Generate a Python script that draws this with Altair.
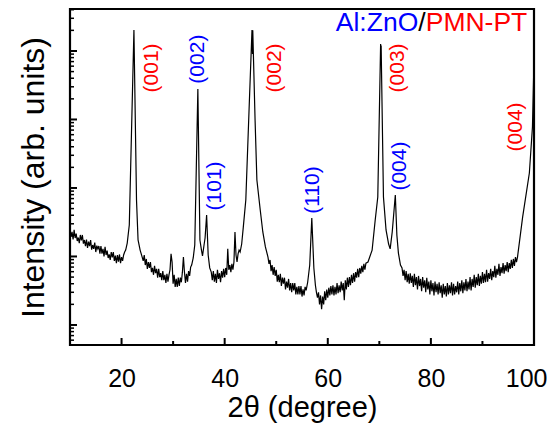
import altair as alt
import pandas as pd

# ---------------- data ----------------
two_theta = [
    # 10 - 20.4
    10.0, 10.2, 10.4, 10.6, 10.8, 11.0, 11.2, 11.4, 11.6, 11.8, 12.0, 12.2, 12.4, 12.6, 12.8,
    13.0, 13.2, 13.4, 13.6, 13.8, 14.0, 14.2, 14.4, 14.6, 14.8, 15.0, 15.2, 15.4, 15.6, 15.8,
    16.0, 16.2, 16.4, 16.6, 16.8, 17.0, 17.2, 17.4, 17.6, 17.8, 18.0, 18.2, 18.4, 18.6, 18.8,
    19.0, 19.2, 19.4, 19.6, 19.8, 20.0, 20.2, 20.4,
    # PMN-PT (001)
    20.6, 20.8, 21.1, 21.5, 22.4, 22.9, 23.2, 23.6, 24.0,
    # 24.2 - 33.6
    24.2, 24.4, 24.6, 24.8, 25.0, 25.2, 25.4, 25.6, 25.8, 26.0, 26.2, 26.4, 26.6, 26.8, 27.0,
    27.2, 27.4, 27.6, 27.8, 28.0, 28.2, 28.4, 28.6, 28.8, 29.0, 29.2, 29.4, 29.6, 29.8, 30.0,
    30.2, 30.4, 30.6, 30.8, 31.0, 31.2, 31.4, 31.6, 31.8, 32.0, 32.2, 32.4, 32.6, 32.8, 33.0,
    33.2, 33.4, 33.6,
    # ZnO (002), (101)
    33.9, 34.2, 34.8, 35.2, 35.5, 35.7, 36.0, 36.2, 36.5, 36.8, 37.1,
    # 37.4 - 43.0
    37.4, 37.6, 37.8, 38.0, 38.2, 38.4, 38.6, 38.8, 39.0, 39.2, 39.4, 39.6, 39.8, 40.0, 40.2,
    40.4, 40.6, 40.8, 41.0, 41.2, 41.4, 41.6, 41.8, 42.0, 42.2, 42.4, 42.6, 42.8, 43.0,
    # PMN-PT (002)
    43.3, 43.6, 44.1, 44.8, 45.3, 45.4, 45.45, 45.9, 46.25, 46.9, 47.4, 47.9, 48.4,
    # 48.6 - 55.8
    48.6, 48.8, 49.0, 49.2, 49.4, 49.6, 49.8, 50.0, 50.2, 50.4, 50.6, 50.8, 51.0, 51.2, 51.4,
    51.6, 51.8, 52.0, 52.2, 52.4, 52.6, 52.8, 53.0, 53.2, 53.4, 53.6, 53.8, 54.0, 54.2, 54.4,
    54.6, 54.8, 55.0, 55.2, 55.4, 55.6, 55.8,
    # ZnO (110)
    56.1, 56.5, 56.9, 57.3, 57.6,
    # 57.8 - 67.4
    57.8, 58.0, 58.2, 58.4, 58.6, 58.8, 59.0, 59.2, 59.4, 59.6, 59.8, 60.0, 60.2, 60.4, 60.6,
    60.8, 61.0, 61.2, 61.4, 61.6, 61.8, 62.0, 62.2, 62.4, 62.6, 62.8, 63.0, 63.2, 63.4, 63.6,
    63.8, 64.0, 64.2, 64.4, 64.6, 64.8, 65.0, 65.2, 65.4, 65.6, 65.8, 66.0, 66.2, 66.4, 66.6,
    66.8, 67.0, 67.2, 67.4,
    # PMN-PT (003), ZnO (004)
    67.8, 68.6, 69.2, 69.7, 70.25, 70.3, 70.35, 70.8, 71.3, 71.8, 72.1, 72.5, 73.1, 73.4, 73.7, 74.1,
    # 74.4 - 96.8
    74.4, 74.6, 74.8, 75.0, 75.2, 75.4, 75.6, 75.8, 76.0, 76.2, 76.4, 76.6, 76.8, 77.0, 77.2,
    77.4, 77.6, 77.8, 78.0, 78.2, 78.4, 78.6, 78.8, 79.0, 79.2, 79.4, 79.6, 79.8, 80.0, 80.2,
    80.4, 80.6, 80.8, 81.0, 81.2, 81.4, 81.6, 81.8, 82.0, 82.2, 82.4, 82.6, 82.8, 83.0, 83.2,
    83.4, 83.6, 83.8, 84.0, 84.2, 84.4, 84.6, 84.8, 85.0, 85.2, 85.4, 85.6, 85.8, 86.0, 86.2,
    86.4, 86.6, 86.8, 87.0, 87.2, 87.4, 87.6, 87.8, 88.0, 88.2, 88.4, 88.6, 88.8, 89.0, 89.2,
    89.4, 89.6, 89.8, 90.0, 90.2, 90.4, 90.6, 90.8, 91.0, 91.2, 91.4, 91.6, 91.8, 92.0, 92.2,
    92.4, 92.6, 92.8, 93.0, 93.2, 93.4, 93.6, 93.8, 94.0, 94.2, 94.4, 94.6, 94.8, 95.0, 95.2,
    95.4, 95.6, 95.8, 96.0, 96.2, 96.4, 96.6, 96.8,
    # PMN-PT (004) rising edge
    97.8, 99.1, 99.7, 100.0,
]
counts = [
    # 10 - 20.4
    252, 195, 228, 177, 244, 186, 216, 168, 189, 157, 206, 171, 206, 154, 174,
    142, 177, 133, 165, 142, 174, 126, 147, 129, 160, 116, 144, 129, 142, 110,
    142, 110, 129, 100, 138, 105, 122, 95, 107, 89, 116, 97, 116, 86, 103,
    80, 105, 84, 107, 80, 98, 86, 105,
    # PMN-PT (001)
    116, 124, 157, 288, 203000, 668, 174, 124, 98,
    # 24.2 - 33.6
    86, 105, 75, 92, 66, 83, 68, 83, 59, 68, 54, 73, 57, 66, 49,
    66, 50, 57, 45, 61, 45, 54, 41, 56, 43, 54, 64, 109, 83, 40,
    54, 36, 47, 36, 49, 37, 49, 42, 59, 98, 59, 41, 56, 43, 61,
    52, 70, 75,
    # ZnO (002), (101)
    95, 147, 27900, 174, 124, 102, 147, 186, 403, 105, 68,
    # 37.4 - 43.0
    59, 45, 61, 43, 56, 41, 64, 47, 57, 42, 61, 49, 66, 50, 68,
    54, 129, 64, 75, 59, 78, 64, 83, 228, 105, 83, 109, 124, 116,
    # PMN-PT (002)
    152, 261, 668, 19300, 203000, 90000, 200000, 9770, 1309, 477, 228, 138, 98,
    # 48.6 - 55.8
    78, 89, 61, 75, 54, 70, 52, 64, 43, 54, 42, 56, 37, 49, 40,
    49, 33, 43, 35, 47, 32, 41, 30, 41, 32, 41, 28, 36, 28, 37,
    28, 37, 26, 33, 27, 36, 32,
    # ZnO (110)
    42, 75, 365, 68, 38,
    # 57.8 - 67.4
    30, 25, 30, 20, 27, 17, 26, 20, 31, 23, 33, 25, 35, 27, 37,
    28, 38, 27, 36, 28, 41, 29, 38, 30, 43, 32, 41, 23, 45, 33,
    49, 36, 50, 38, 54, 41, 57, 43, 59, 49, 66, 50, 68, 56, 73,
    59, 78, 64, 80,
    # PMN-PT (003), ZnO (004)
    83, 124, 341, 739, 126000, 74000, 120000, 739, 244, 152, 129, 228, 790, 206, 112, 75,
    # 74.4 - 96.8
    68, 52, 64, 45, 61, 42, 56, 40, 57, 41, 52, 36, 56, 38, 50,
    33, 52, 37, 47, 31, 50, 35, 45, 30, 49, 33, 43, 28, 45, 31,
    41, 27, 43, 30, 40, 28, 42, 29, 38, 25, 40, 28, 37, 26, 41,
    28, 38, 29, 42, 27, 40, 28, 37, 30, 43, 28, 41, 31, 45, 29,
    42, 32, 47, 31, 43, 33, 50, 32, 47, 36, 54, 35, 50, 38, 56,
    37, 52, 40, 59, 41, 56, 42, 64, 43, 57, 47, 66, 45, 61, 50,
    73, 49, 66, 54, 78, 52, 70, 57, 80, 56, 75, 61, 83, 59, 80,
    66, 89, 68, 92, 73, 98, 83, 98,
    # PMN-PT (004) rising edge
    378, 1656, 7770, 74000,
]

x_major = [20, 40, 60, 80, 100]
x_minor = [30, 50, 70, 90]
y_major = [10, 100, 1000, 10000, 100000]
y_minor = [6, 7, 8, 9,
           20, 30, 40, 50, 60, 70, 80, 90,
           200, 300, 400, 500, 600, 700, 800, 900,
           2000, 3000, 4000, 5000, 6000, 7000, 8000, 9000,
           20000, 30000, 40000, 50000, 60000, 70000, 80000, 90000,
           200000, 300000, 400000]

peak_labels = ["(001)", "(002)", "(101)", "(002)", "(110)", "(003)", "(004)", "(004)"]
peak_theta = [26.0, 34.8, 38.2, 49.8, 57.2, 73.7, 74.1, 96.6]
peak_count = [56500, 76000, 1070, 56500, 935, 56500, 2090, 7790]
peak_color = ["#FF0000", "#0000FF", "#0000FF", "#FF0000", "#0000FF", "#FF0000", "#0000FF", "#FF0000"]

head_text = ["Al:ZnO", "/", "PMN-PT"]
head_theta = [77.55, 78.99, 98.7]
head_count = [193000, 193000, 193000]
head_color = ["#0000FF", "#000000", "#FF0000"]

# ---------------- chart ----------------
FONT = "Liberation Sans"
W, H = 464, 336
xs = alt.Scale(domain=[10, 100], nice=False, zero=False)
ys = alt.Scale(type="log", domain=[5.1, 4.1e5], nice=False)

x_axis = alt.Axis(
    values=x_major, ticks=False, domain=False, grid=False,
    labelFlush=True, labelFlushOffset=13,
    labelFont=FONT, labelFontSize=25, labelColor="black", labelPadding=21,
    title="2θ (degree)", titleFont=FONT, titleFontSize=29, titleFontWeight="normal",
    titleColor="black", titlePadding=2)
y_axis = alt.Axis(
    labels=False, ticks=False, domain=False, grid=False,
    title="Intensity (arb. units)", titleFont=FONT, titleFontSize=32,
    titleFontWeight="normal", titleColor="black", titlePadding=20)

df = pd.DataFrame({"t": two_theta, "c": counts})

line = alt.Chart(df).mark_line(color="black", strokeWidth=1.2, clip=True).encode(
    x=alt.X("t:Q", scale=xs, axis=x_axis),
    y=alt.Y("c:Q", scale=ys, axis=y_axis),
)

xt_major = alt.Chart(pd.DataFrame({"t": x_major})).mark_rule(color="black", strokeWidth=2).encode(
    x=alt.X("t:Q", scale=xs, axis=x_axis), y=alt.value(H), y2=alt.value(H - 7))
xt_minor = alt.Chart(pd.DataFrame({"t": x_minor})).mark_rule(color="black", strokeWidth=2).encode(
    x=alt.X("t:Q", scale=xs, axis=x_axis), y=alt.value(H), y2=alt.value(H - 4))
yt_major = alt.Chart(pd.DataFrame({"c": y_major})).mark_rule(color="black", strokeWidth=2).encode(
    y=alt.Y("c:Q", scale=ys, axis=y_axis), x=alt.value(0), x2=alt.value(7))
yt_minor = alt.Chart(pd.DataFrame({"c": y_minor})).mark_rule(color="black", strokeWidth=1.5).encode(
    y=alt.Y("c:Q", scale=ys, axis=y_axis), x=alt.value(0), x2=alt.value(4))

peaks = alt.Chart(pd.DataFrame({"t": peak_theta, "c": peak_count, "lab": peak_labels, "col": peak_color})).mark_text(
    angle=270, font=FONT, fontSize=21, align="center", baseline="middle").encode(
    x=alt.X("t:Q", scale=xs, axis=x_axis), y=alt.Y("c:Q", scale=ys, axis=y_axis),
    text="lab:N", color=alt.Color("col:N", scale=None))

head = alt.Chart(pd.DataFrame({"t": head_theta, "c": head_count, "lab": head_text, "col": head_color})).mark_text(
    font=FONT, fontSize=26.5, align="right", baseline="alphabetic").encode(
    x=alt.X("t:Q", scale=xs, axis=x_axis), y=alt.Y("c:Q", scale=ys, axis=y_axis),
    text="lab:N", color=alt.Color("col:N", scale=None))

chart = alt.layer(line, xt_major, xt_minor, yt_major, yt_minor, peaks, head).properties(
    width=W, height=H,
    autosize=alt.AutoSizeParams(type="none"),
    padding={"left": 62, "top": 1, "right": 13, "bottom": 80},
).configure_view(stroke="black", strokeWidth=2.2)

chart.save("out.html", embed_options={"renderer": "svg", "actions": False})
